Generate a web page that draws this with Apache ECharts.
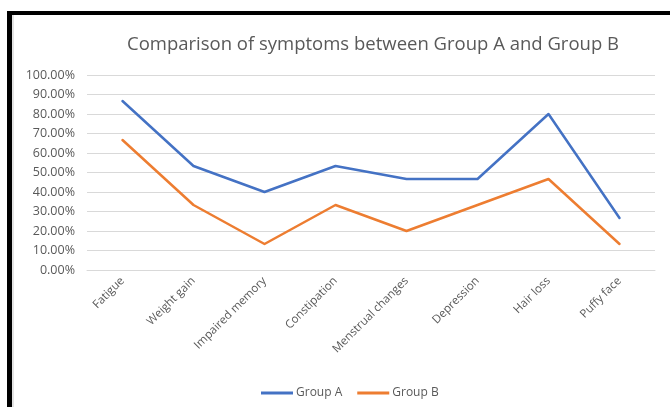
<!DOCTYPE html>
<html>
<head>
<meta charset="utf-8">
<script src="https://cdn.jsdelivr.net/npm/echarts@6/dist/echarts.min.js"></script>
<style>
  html, body { margin: 0; padding: 0; background: #ffffff; }
  #chart { width: 670px; height: 407px; }
</style>
</head>
<body>
<div id="chart"></div>
<script>
// Symptom categories and share of each group reporting them
const symptoms = ['Fatigue', 'Weight gain', 'Impaired memory', 'Constipation',
                  'Menstrual changes', 'Depression', 'Hair loss', 'Puffy face'];
const groupA = [0.8667, 0.5333, 0.40, 0.5333, 0.4667, 0.4667, 0.80, 0.2667];
const groupB = [0.6667, 0.3333, 0.1333, 0.3333, 0.20, 0.3333, 0.4667, 0.1333];
const seriesNames = ['Group A', 'Group B'];
const chartTitle = 'Comparison of symptoms between Group A and Group B';

const textGray = '#595959';
const font = 'Open Sans';

const chart = echarts.init(document.getElementById('chart'), null, { renderer: 'canvas' });

chart.setOption({
  backgroundColor: '#ffffff',
  animation: false,
  title: {
    text: chartTitle,
    left: 122,
    top: 30,
    textStyle: { fontFamily: font, fontSize: 18.5, fontWeight: 'normal', color: textGray }
  },
  legend: {
    data: seriesNames,
    top: 382,
    left: 256,
    icon: 'rect',
    itemWidth: 32,
    itemHeight: 3,
    itemGap: 15,
    textStyle: { fontFamily: font, fontSize: 12, color: textGray, padding: [0, 0, 0, -2] }
  },
  grid: { left: 87, right: 15, top: 75, bottom: 137, containLabel: false },
  xAxis: {
    type: 'category',
    data: symptoms,
    boundaryGap: true,
    axisLine: { lineStyle: { color: '#d9d9d9', width: 1 } },
    axisTick: { show: false },
    axisLabel: {
      rotate: 45,
      margin: 9,
      interval: 0,
      fontFamily: font,
      fontSize: 11.5,
      color: textGray
    }
  },
  yAxis: {
    type: 'value',
    min: 0,
    max: 1,
    interval: 0.1,
    axisLine: { show: false },
    axisTick: { show: false },
    splitLine: { lineStyle: { color: '#d9d9d9', width: 1 } },
    axisLabel: {
      margin: 12,
      fontFamily: font,
      fontSize: 12.5,
      color: textGray,
      formatter: v => (v * 100).toFixed(2) + '%'
    }
  },
  series: [
    {
      name: seriesNames[0],
      type: 'line',
      data: groupA,
      showSymbol: false,
      symbol: 'none',
      lineStyle: { color: '#4472C4', width: 2.5, cap: 'round', join: 'round' },
      itemStyle: { color: '#4472C4' }
    },
    {
      name: seriesNames[1],
      type: 'line',
      data: groupB,
      showSymbol: false,
      symbol: 'none',
      lineStyle: { color: '#ED7D31', width: 2.5, cap: 'round', join: 'round' },
      itemStyle: { color: '#ED7D31' }
    }
  ],
  graphic: [
    // frame around the chart: heavy black top and left edges
    { type: 'rect', silent: true, shape: { x: 7, y: 11, width: 663, height: 4 }, style: { fill: '#000000' } },
    { type: 'rect', silent: true, shape: { x: 7, y: 11, width: 5, height: 396 }, style: { fill: '#000000' } },
    { type: 'rect', silent: true, shape: { x: 12, y: 15, width: 2, height: 392 }, style: { fill: '#e3e3e3' } }
  ]
});
</script>
</body>
</html>
